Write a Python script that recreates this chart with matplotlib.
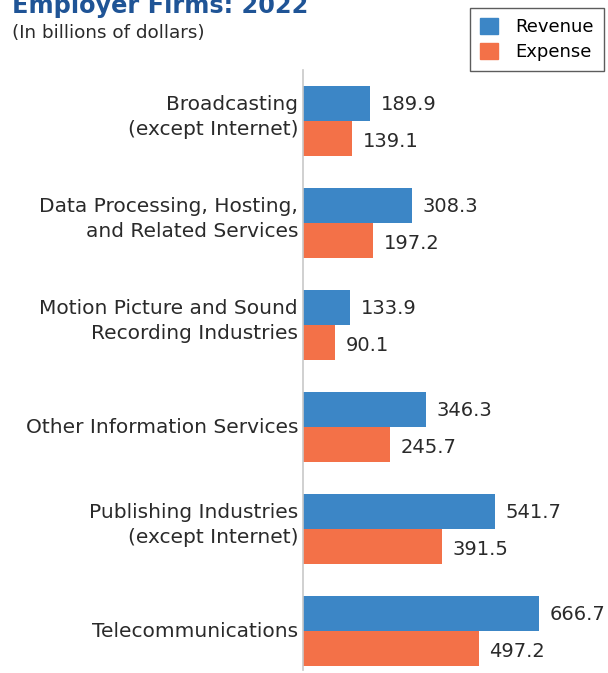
import numpy as np
import matplotlib.pyplot as plt
from matplotlib.patches import Patch

categories = ["Broadcasting\n(except Internet)",
              "Data Processing, Hosting,\nand Related Services",
              "Motion Picture and Sound\nRecording Industries",
              "Other Information Services",
              "Publishing Industries\n(except Internet)",
              "Telecommunications"]
revenue = [189.9, 308.3, 133.9, 346.3, 541.7, 666.7]
expense = [139.1, 197.2, 90.1, 245.7, 391.5, 497.2]

blue = "#3C86C6"
orange = "#F37148"
font = "DejaVu Sans"

fig = plt.figure(figsize=(6.08, 6.73), dpi=100)
ax = fig.add_axes([303/608, 3/673, 305/608, 600/673])

y = np.arange(len(categories))
h = 0.345
ax.barh(y - h/2, revenue, height=h, color=blue)
ax.barh(y + h/2, expense, height=h, color=orange)

for i in range(len(categories)):
    ax.text(revenue[i] + 30, y[i] - h/2 + 0.01, f"{revenue[i]:.1f}", va="center", ha="left",
            fontsize=14, color="#2a2a2a", family=font)
    ax.text(expense[i] + 30, y[i] + h/2 + 0.03, f"{expense[i]:.1f}", va="center", ha="left",
            fontsize=14, color="#2a2a2a", family=font)

# category labels, two-line ones sit slightly above the group centre
for i, lab in enumerate(categories):
    off = -0.04 if "\n" in lab else 0.0
    ax.text(-5/0.354, y[i] + off, lab, ha="right", va="center", fontsize=14.5,
            family=font, color="#2a2a2a", linespacing=1.45, multialignment="right")

ax.set_xlim(0, 862)
ax.set_ylim(5.38, -0.5)
ax.set_yticks([])
ax.set_xticks([])
for s in ["top", "right", "bottom"]:
    ax.spines[s].set_visible(False)
ax.spines["left"].set_color("#c8c8c8")
ax.spines["left"].set_linewidth(1.2)

fig.text(12/608, 1 - 13/673, "Employer Firms: 2022", fontsize=17.3, fontweight="bold",
         color="#1F5496", family=font, va="baseline", ha="left")
fig.text(12/608, 1 - 33/673, "(In billions of dollars)", fontsize=13.2, color="#2a2a2a",
         family=font, va="center", ha="left")

handles = [Patch(color=blue, label="Revenue"), Patch(color=orange, label="Expense")]
leg = fig.legend(handles=handles, loc="upper right", bbox_to_anchor=(604/608, 1 - 8/673),
                 frameon=True, fancybox=False, edgecolor="#333333",
                 prop={"family": font, "size": 13}, handlelength=0.95, handleheight=0.95,
                 borderpad=0.55, labelspacing=0.4, handletextpad=1.0, borderaxespad=0)
leg.get_frame().set_linewidth(1.0)

fig.savefig("out.png", dpi=100)
